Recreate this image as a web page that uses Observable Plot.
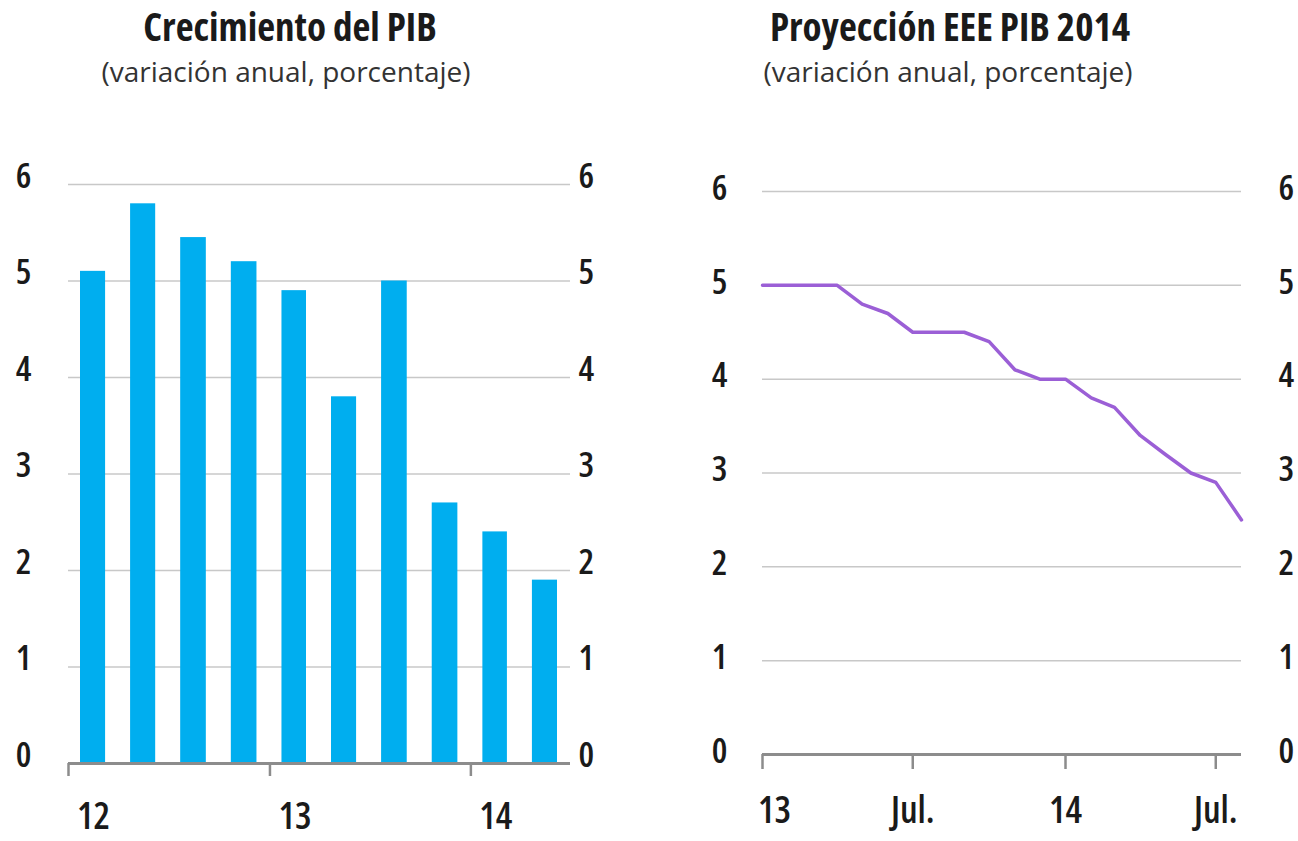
<!DOCTYPE html>
<html>
<head>
<meta charset="utf-8">
<script src="https://cdn.jsdelivr.net/npm/d3@7"></script>
<script src="https://cdn.jsdelivr.net/npm/@observablehq/plot@0.6"></script>
<style>
  html, body { margin: 0; padding: 0; background: #ffffff; }
  #page { position: relative; width: 1298px; height: 841px; overflow: hidden; background: #fff;
          font-family: "Open Sans", "DejaVu Sans Condensed", sans-serif; }
  .title { position: absolute; text-align: center; font-weight: 700; font-size: 39px; line-height: 1;
           font-stretch: 75%; color: #1a1a1a; white-space: nowrap; }
  .subtitle { position: absolute; text-align: center; font-size: 28px; line-height: 1;
              color: #333; white-space: nowrap; }
  .panel { position: absolute; top: 120px; }
  .panel svg text { font-family: "Open Sans", "DejaVu Sans Condensed", sans-serif; font-stretch: 75%; }
</style>
</head>
<body>
<div id="page">
  <div class="title" style="left:90px; width:400px; top:6px;">Crecimiento del PIB</div>
  <div class="subtitle" style="left:86px; width:400px; top:57px;">(variación anual, porcentaje)</div>
  <div class="title" style="left:750px; width:400px; top:6px;">Proyección EEE PIB 2014</div>
  <div class="subtitle" style="left:748px; width:400px; top:57px;">(variación anual, porcentaje)</div>
  <div class="panel" id="left" style="left:0px;"></div>
  <div class="panel" id="right" style="left:680px;"></div>
</div>
<script>
// ---- Left panel: quarterly GDP growth ----
const quarterStarts = ["2012-01-01","2012-04-01","2012-07-01","2012-10-01",
                       "2013-01-01","2013-04-01","2013-07-01","2013-10-01",
                       "2014-01-01","2014-04-01"];
const gdpGrowth = [5.1, 5.8, 5.45, 5.2, 4.9, 3.8, 5.0, 2.7, 2.4, 1.9];
const leftTickDates = ["2012-01-01","2013-01-01","2014-01-01"];
const leftTickLabels = ["12","13","14"];

// ---- Right panel: monthly survey projection for 2014 GDP ----
const monthStarts = ["2013-01-01","2013-02-01","2013-03-01","2013-04-01","2013-05-01","2013-06-01",
                     "2013-07-01","2013-08-01","2013-09-01","2013-10-01","2013-11-01","2013-12-01",
                     "2014-01-01","2014-02-01","2014-03-01","2014-04-01","2014-05-01","2014-06-01",
                     "2014-07-01","2014-08-01"];
const eeeProjection = [5.0, 5.0, 5.0, 5.0, 4.8, 4.7, 4.5, 4.5, 4.5, 4.4, 4.1, 4.0,
                       4.0, 3.8, 3.7, 3.4, 3.2, 3.0, 2.9, 2.5];
const rightTickDates = ["2013-01-01","2013-07-01","2014-01-01","2014-07-01"];
const rightTickLabels = ["13","Jul.","14","Jul."];

const yTicks = [0, 1, 2, 3, 4, 5, 6];
const gridVals = [1, 2, 3, 4, 5, 6];

const parse = d3.utcParse("%Y-%m-%d");

const barData = quarterStarts.map((q, i) => {
  const s = parse(q);
  return { start: s, end: d3.utcMonth.offset(s, 3), value: gdpGrowth[i] };
});
const lineData = monthStarts.map((m, i) => ({ date: parse(m), value: eeeProjection[i] }));

const leftTickMap = new Map(leftTickDates.map((d, i) => [+parse(d), leftTickLabels[i]]));
const rightTickMap = new Map(rightTickDates.map((d, i) => [+parse(d), rightTickLabels[i]]));

const yFont = { fontSize: 35, fontWeight: 600, fill: "#1a1a1a", label: null };
const xFont = { fontSize: 37, fontWeight: 600, fill: "#1a1a1a", label: null };
const intFmt = d3.format("d");

const leftPlot = Plot.plot({
  width: 640,
  height: 721,
  marginLeft: 68,
  marginRight: 70,
  marginTop: 64,
  marginBottom: 78,
  style: { background: "transparent", fontSize: "35px", overflow: "visible" },
  x: { type: "utc", domain: [parse("2012-01-01"), parse("2014-07-01")] },
  y: { domain: [0, 6] },
  marks: [
    Plot.ruleY(gridVals, { stroke: "#c8c8c8", strokeWidth: 1.5 }),
    Plot.rectY(barData, { x1: "start", x2: "end", y: "value", fill: "#00aeef", insetLeft: 12, insetRight: 13 }),
    Plot.ruleY([0], { stroke: "#8c8c8c", strokeWidth: 3 }),
    Plot.axisY(yTicks, { anchor: "left", tickSize: 0, tickPadding: 37, dy: -8, tickFormat: intFmt, ...yFont }),
    Plot.axisY(yTicks, { anchor: "right", tickSize: 0, tickPadding: 8, dy: -8, tickFormat: intFmt, ...yFont }),
    Plot.axisX(leftTickDates.map(parse), { anchor: "bottom", tickSize: 13, stroke: "#8c8c8c", strokeWidth: 2.5,
      text: null, label: null }),
    Plot.axisX(leftTickDates.map(parse), { anchor: "bottom", tickSize: 0,
      tickPadding: 39, dx: 25, tickFormat: d => leftTickMap.get(+d), ...xFont })
  ]
});
document.getElementById("left").appendChild(leftPlot);

const rightPlot = Plot.plot({
  width: 618,
  height: 721,
  marginLeft: 82,
  marginRight: 57,
  marginTop: 71,
  marginBottom: 87,
  style: { background: "transparent", fontSize: "35px", overflow: "visible" },
  x: { type: "utc", domain: [parse("2013-01-01"), parse("2014-08-01")] },
  y: { domain: [0, 6] },
  marks: [
    Plot.ruleY(gridVals, { stroke: "#c8c8c8", strokeWidth: 1.5 }),
    Plot.ruleY([0], { stroke: "#8c8c8c", strokeWidth: 3 }),
    Plot.line(lineData, { x: "date", y: "value", stroke: "#9b5fd6", strokeWidth: 3.5 }),
    Plot.axisY(yTicks, { anchor: "left", tickSize: 0, tickPadding: 35, dy: -3, tickFormat: intFmt, ...yFont }),
    Plot.axisY(yTicks, { anchor: "right", tickSize: 0, tickPadding: 37, dy: -3, tickFormat: intFmt, ...yFont }),
    Plot.axisX(rightTickDates.map(parse), { anchor: "bottom", tickSize: 15, stroke: "#8c8c8c", strokeWidth: 2.5,
      text: null, label: null }),
    Plot.axisX(rightTickDates.slice(0, 1).map(parse), { anchor: "bottom", tickSize: 0,
      tickPadding: 42, dx: 12, tickFormat: d => rightTickMap.get(+d), ...xFont }),
    Plot.axisX(rightTickDates.slice(1).map(parse), { anchor: "bottom", tickSize: 0,
      tickPadding: 42, tickFormat: d => rightTickMap.get(+d), ...xFont })
  ]
});
document.getElementById("right").appendChild(rightPlot);
</script>
</body>
</html>
